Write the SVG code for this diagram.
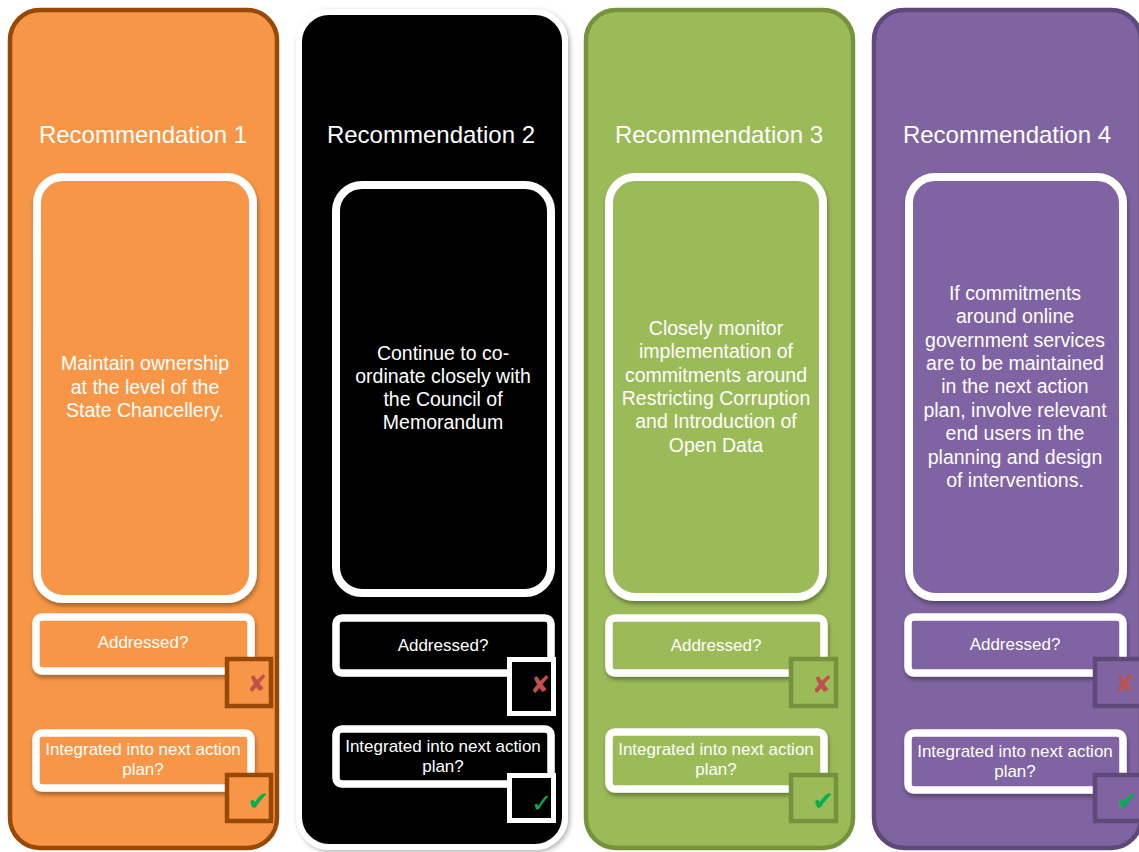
<svg xmlns="http://www.w3.org/2000/svg" width="1139" height="852" viewBox="0 0 1139 852">
<defs>
<filter id="sh" x="-10%" y="-10%" width="130%" height="130%">
<feDropShadow dx="1" dy="3" stdDeviation="2" flood-color="#000" flood-opacity="0.35"/>
</filter>
<filter id="sh2" x="-10%" y="-10%" width="130%" height="130%">
<feDropShadow dx="2" dy="2" stdDeviation="2.5" flood-color="#000" flood-opacity="0.3"/>
</filter>
</defs>
<style>
.title{font-family:"Liberation Sans",Arial,sans-serif;font-size:24px;fill:#fff;text-anchor:middle}
.body{font-family:"Liberation Sans",Arial,sans-serif;font-size:19.5px;fill:#fff;text-anchor:middle}
.small{font-family:"Liberation Sans",Arial,sans-serif;font-size:17px;fill:#fff;text-anchor:middle}
.wbox{stroke:#fff;stroke-width:8;filter:url(#sh)}
.wsmall{stroke:#fff;stroke-width:7.5;filter:url(#sh)}
.cross{font-family:"DejaVu Sans",sans-serif;font-size:24px;fill:#C0504D;text-anchor:middle}
.check{font-family:"DejaVu Sans",sans-serif;font-size:26px;fill:#00B050;text-anchor:middle}
.o{fill:#F79646}
.ob{stroke:#984807;stroke-width:4.5}
.k{fill:#000}
.g{fill:#9BBB59}
.gb{stroke:#76923C;stroke-width:4.5}
.p{fill:#8064A2}
.pb{stroke:#5F497A;stroke-width:4.5}
</style>
<rect width="1139" height="852" fill="#fff"/>

<g id="rec1">
<rect x="10" y="10" width="267" height="838" rx="30" class="o ob"/>
<text x="143" y="143" class="title">Recommendation 1</text>
<g id="rec1-text">
<rect x="37" y="177" width="216" height="422" rx="26" class="o wbox"/>
<text class="body"><tspan x="145" y="370">Maintain ownership</tspan><tspan x="145" y="393.5">at the level of the</tspan><tspan x="145" y="417">State Chancellery.</tspan></text>
</g>
<g id="rec1-addressed">
<rect x="36" y="617" width="215" height="54" rx="6" class="o wsmall"/>
<text x="143" y="648" class="small">Addressed?</text>
<rect x="227" y="659" width="44" height="47" class="o ob"/>
<text x="257" y="692" class="cross">✘</text>
</g>
<g id="rec1-integrated">
<rect x="36" y="733" width="215" height="55" rx="6" class="o wsmall"/>
<text class="small"><tspan x="143" y="755">Integrated into next action</tspan><tspan x="143" y="775">plan?</tspan></text>
<rect x="227" y="775" width="44" height="46" class="o ob"/>
<text x="258" y="810" class="check">✔</text>
</g>
</g>

<g id="rec2">
<rect x="299" y="12" width="266" height="835" rx="30" class="k" stroke="#fff" stroke-width="6" filter="url(#sh2)"/>
<text x="431" y="143" class="title">Recommendation 2</text>
<g id="rec2-text">
<rect x="336" y="185" width="215" height="408" rx="26" class="k wbox"/>
<text class="body"><tspan x="443" y="360">Continue to co-</tspan><tspan x="443" y="383">ordinate closely with</tspan><tspan x="443" y="406">the Council of</tspan><tspan x="443" y="429">Memorandum</tspan></text>
</g>
<g id="rec2-addressed">
<rect x="336" y="618" width="215" height="55" rx="6" class="k wsmall"/>
<text x="443" y="651" class="small">Addressed?</text>
<rect x="509.5" y="659.5" width="44" height="54" class="k" stroke="#fff" stroke-width="5"/>
<text x="540" y="693" class="cross">✘</text>
</g>
<g id="rec2-integrated">
<rect x="336" y="729" width="215" height="55" rx="6" class="k wsmall"/>
<text class="small"><tspan x="443" y="752">Integrated into next action</tspan><tspan x="443" y="772">plan?</tspan></text>
<rect x="509.5" y="775.5" width="44" height="45" class="k" stroke="#fff" stroke-width="5"/>
<text x="542" y="812" class="check">✓</text>
</g>
</g>

<g id="rec3">
<rect x="586" y="10" width="267" height="838" rx="30" class="g gb"/>
<text x="719" y="143" class="title">Recommendation 3</text>
<g id="rec3-text">
<rect x="609" y="177" width="214" height="420" rx="26" class="g wbox"/>
<text class="body"><tspan x="716" y="335">Closely monitor</tspan><tspan x="716" y="358">implementation of</tspan><tspan x="716" y="382">commitments around</tspan><tspan x="716" y="405">Restricting Corruption</tspan><tspan x="716" y="428">and Introduction of</tspan><tspan x="716" y="452">Open Data</tspan></text>
</g>
<g id="rec3-addressed">
<rect x="609" y="618" width="215" height="55" rx="6" class="g wsmall"/>
<text x="716" y="651" class="small">Addressed?</text>
<rect x="791" y="659" width="45" height="47" class="g gb"/>
<text x="822" y="693" class="cross">✘</text>
</g>
<g id="rec3-integrated">
<rect x="609" y="732" width="215" height="57" rx="6" class="g wsmall"/>
<text class="small"><tspan x="716" y="755">Integrated into next action</tspan><tspan x="716" y="775">plan?</tspan></text>
<rect x="791" y="775" width="45" height="46" class="g gb"/>
<text x="823" y="810" class="check">✔</text>
</g>
</g>

<g id="rec4">
<rect x="874" y="10" width="267" height="838" rx="30" class="p pb"/>
<text x="1007" y="143" class="title">Recommendation 4</text>
<g id="rec4-text">
<rect x="909" y="177" width="214" height="420" rx="26" class="p wbox"/>
<text class="body"><tspan x="1015" y="300">If commitments</tspan><tspan x="1015" y="323">around online</tspan><tspan x="1015" y="347">government services</tspan><tspan x="1015" y="370">are to be maintained</tspan><tspan x="1015" y="393">in the next action</tspan><tspan x="1015" y="417">plan, involve relevant</tspan><tspan x="1015" y="440">end users in the</tspan><tspan x="1015" y="464">planning and design</tspan><tspan x="1015" y="487">of interventions.</tspan></text>
</g>
<g id="rec4-addressed">
<rect x="908" y="617" width="215" height="56" rx="6" class="p wsmall"/>
<text x="1015" y="650" class="small">Addressed?</text>
<rect x="1095" y="659" width="48" height="47" class="p pb"/>
<text x="1125" y="692" class="cross">✘</text>
</g>
<g id="rec4-integrated">
<rect x="908" y="733" width="215" height="57" rx="6" class="p wsmall"/>
<text class="small"><tspan x="1015" y="757">Integrated into next action</tspan><tspan x="1015" y="777">plan?</tspan></text>
<rect x="1095" y="775" width="48" height="46" class="p pb"/>
<text x="1127" y="810" class="check">✔</text>
</g>
</g>
</svg>
